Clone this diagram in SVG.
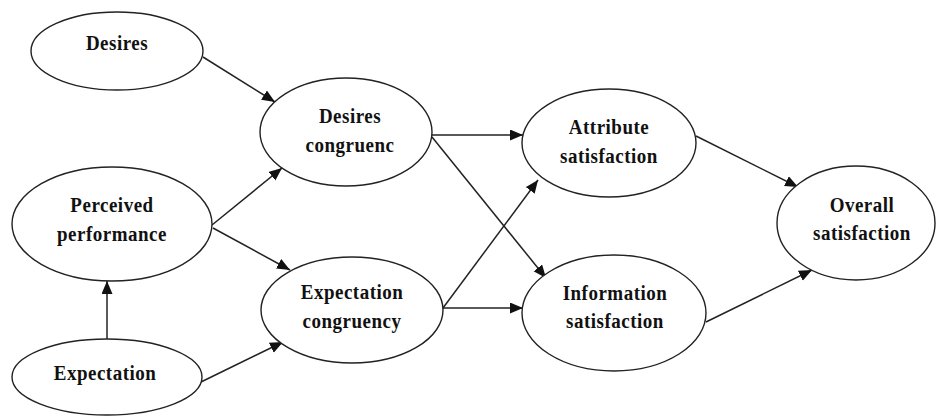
<svg xmlns="http://www.w3.org/2000/svg" width="937" height="417" viewBox="0 0 937 417">
<style>
.node ellipse{fill:#fff;stroke:#222;stroke-width:1.4}
.node text{font-family:"Liberation Serif","Times New Roman",serif;font-weight:bold;font-size:19px;fill:#111;text-anchor:middle;letter-spacing:0.5px}
.edges line{stroke:#222;stroke-width:1.5;marker-end:url(#arr)}
</style>
<defs>
<marker id="arr" markerUnits="userSpaceOnUse" markerWidth="14" markerHeight="12" refX="13" refY="5.5" orient="auto">
<path d="M0,0 L13,5.5 L0,11 z" fill="#111"/>
</marker>
</defs>
<rect width="937" height="417" fill="#fff"/>
<g class="edges">
<line x1="203" y1="57" x2="275" y2="102"/>
<line x1="212" y1="225" x2="282" y2="168"/>
<line x1="213" y1="228" x2="290" y2="270"/>
<line x1="107" y1="339" x2="107" y2="281"/>
<line x1="201" y1="382" x2="283" y2="342"/>
<line x1="432" y1="135" x2="523" y2="135"/>
<line x1="432" y1="137" x2="546" y2="278"/>
<line x1="443" y1="308" x2="538" y2="180"/>
<line x1="443" y1="308" x2="523" y2="308"/>
<line x1="696" y1="136" x2="798" y2="187"/>
<line x1="706" y1="322" x2="812" y2="270"/>
</g>
<g id="desires" class="node"><ellipse cx="117" cy="51" rx="86" ry="39"/><text transform="matrix(1,0,0,1.15,117,50)">Desires</text></g>
<g id="desires-congruenc" class="node"><ellipse cx="346" cy="132" rx="86" ry="54"/><text transform="matrix(1,0,0,1.15,350,123)">Desires</text><text transform="matrix(1,0,0,1.15,350,152)">congruenc</text></g>
<g id="perceived-performance" class="node"><ellipse cx="112" cy="224" rx="100" ry="57"/><text transform="matrix(1,0,0,1.15,112,212)">Perceived</text><text transform="matrix(1,0,0,1.15,112,241)">performance</text></g>
<g id="expectation" class="node"><ellipse cx="107" cy="377" rx="95" ry="38"/><text transform="matrix(1,0,0,1.15,105,380)">Expectation</text></g>
<g id="expectation-congruency" class="node"><ellipse cx="352" cy="310" rx="91" ry="53"/><text transform="matrix(1,0,0,1.15,352,299)">Expectation</text><text transform="matrix(1,0,0,1.15,352,328)">congruency</text></g>
<g id="attribute-satisfaction" class="node"><ellipse cx="609" cy="143" rx="87" ry="54"/><text transform="matrix(1,0,0,1.15,609,134)">Attribute</text><text transform="matrix(1,0,0,1.15,609,163)">satisfaction</text></g>
<g id="information-satisfaction" class="node"><ellipse cx="614" cy="313" rx="92" ry="58"/><text transform="matrix(1,0,0,1.15,615,300)">Information</text><text transform="matrix(1,0,0,1.15,615,328)">satisfaction</text></g>
<g id="overall-satisfaction" class="node"><ellipse cx="856" cy="223" rx="79" ry="57"/><text transform="matrix(1,0,0,1.15,862,212)">Overall</text><text transform="matrix(1,0,0,1.15,862,240)">satisfaction</text></g>
</svg>
